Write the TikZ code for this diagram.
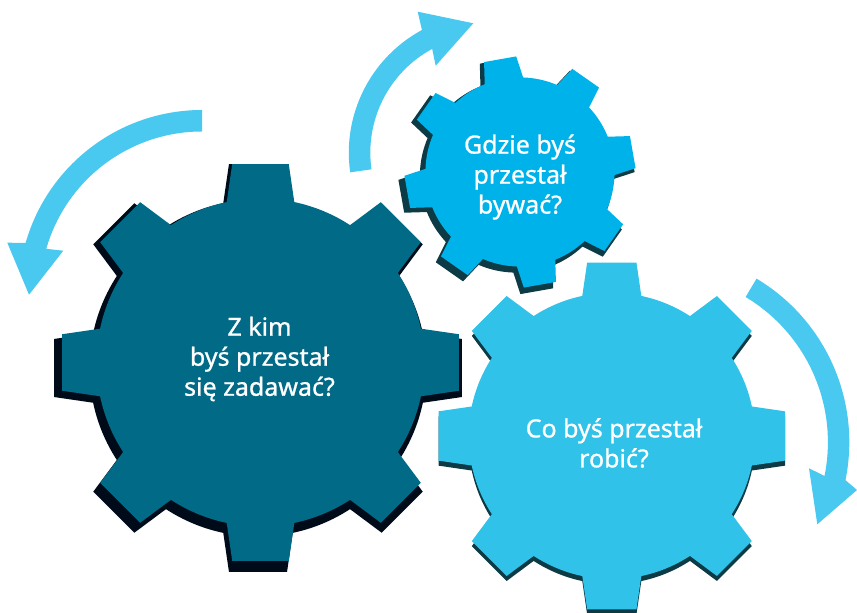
\documentclass[tikz,border=0pt]{standalone}
\usepackage{fontspec}
\setmainfont{Noto Sans}[FakeBold=0.9]
\definecolor{gbpetrol}{HTML}{006A87}
\definecolor{gbink}{HTML}{000B1A}
\definecolor{gbazure}{HTML}{00B2EA}
\definecolor{gbsky}{HTML}{30C2E8}
\definecolor{gbarrow}{HTML}{49C8F0}
\definecolor{gbshade}{HTML}{0C3A45}
\usetikzlibrary{calc}
% x, y, outer radius, turn, colour
\newcommand{\gearshape}[5]{
  \fill[shift={(#1,#2)}, #5] (#4-11.9:#3*.826)
    \foreach \t in {0,45,...,315} {
      -- (\t+#4-11.9:#3*.826) -- (\t+#4-8.1:#3*1.01) -- (\t+#4+8.1:#3*1.01) -- (\t+#4+11.9:#3*.826)
      arc[start angle=\t+#4+11.9, end angle=\t+#4+33.1, radius=#3*.826]
    } -- cycle;
}
% centre, inner radius, outer radius, tail angle, end angle, then the three head points
\newcommand{\bentarrow}[8]{
  \fill[gbarrow] (#1) ++(#4:#3) arc[start angle=#4, end angle=#5, radius=#3]
    -- (#6) -- (#7) -- (#8) -- ($(#1)+(#5:#2)$) arc[start angle=#5, end angle=#4, radius=#2] -- cycle;
}
\begin{document}
\begin{tikzpicture}[x=1pt, y=1pt,
    gtxt/.style={text=white, align=center, font=\fontsize{25}{30}\selectfont}]
  \useasboundingbox (0,0) rectangle (857,613);
  % gears
  \gearshape{258}{245}{204}{0}{gbink}
  \gearshape{260.5}{250.5}{198.5}{0}{gbpetrol}
  \gearshape{516.5}{437}{117}{10}{gbshade}
  \gearshape{520}{441}{114.5}{10}{gbazure}
  \gearshape{611.8}{172}{173.3}{0}{gbshade}
  \gearshape{611.8}{177}{173.3}{0}{gbsky}
  % arrows
  \bentarrow{202,319.5}{162}{183.5}{90}{164}{7.3,370.3}{29,318.3}{63.3,362.3}
  \bentarrow{488.3,460.3}{118}{139.5}{188.1}{118.4}{417.7,601.3}{473.3,589.7}{435.7,547.3}
  \bentarrow{658.7,170.8}{169.2}{190.6}{59.1}{-11.5}{857,123}{817.3,88.7}{809,144.7}
  % labels
  \node[gtxt] (kim) at (259.5,254) {Z kim\\byś przestał\\się zadawać?};
  \node[gtxt] (gdzie) at (520,436) {Gdzie byś\\przestał\\bywać?};
  \node[gtxt] (co) at (614,170) {Co byś przestał\\robić?};
\end{tikzpicture}
\end{document}
